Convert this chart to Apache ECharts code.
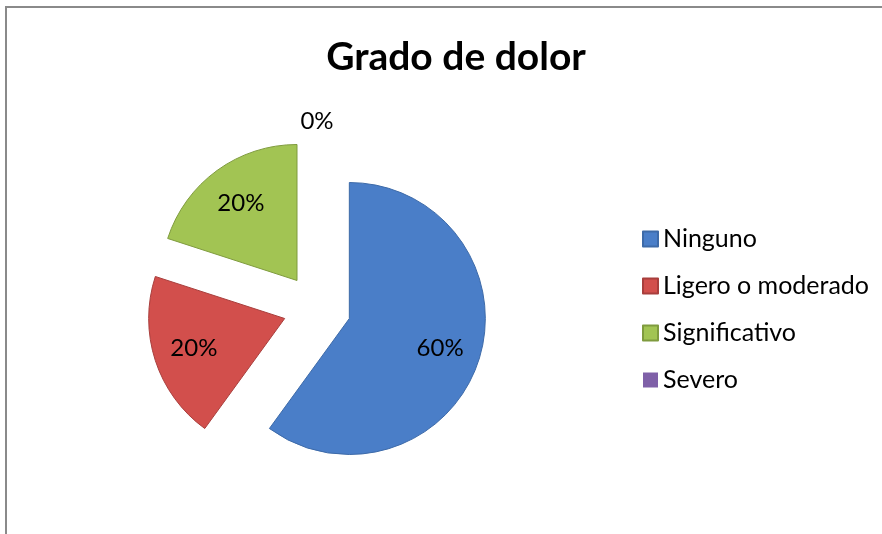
<!DOCTYPE html>
<html>
<head>
<meta charset="utf-8">
<script src="https://cdn.jsdelivr.net/npm/echarts@6/dist/echarts.min.js"></script>
<style>
  html, body { margin: 0; padding: 0; background: #fff; overflow: hidden; }
  #frame { position: absolute; left: 5px; top: 6px; width: 1000px; height: 1000px;
           border-top: 2px solid #8a8a8a; border-left: 2px solid #8a8a8a; }
  #chart { position: absolute; left: 0; top: 0; width: 882px; height: 534px; }
</style>
</head>
<body>
<div id="frame"></div>
<div id="chart"></div>
<script>
const categories = ['Ninguno', 'Ligero o moderado', 'Significativo', 'Severo']
const values = [60, 20, 20, 0]
const colors = ['#4a7ec8', '#d24f4c', '#a2c453', '#7f60a8']
const borders = ['#3d6aa8', '#a83e3c', '#7f9b3e', '#634a86']

const font = 'Lato, "Open Sans", sans-serif'
const center = [317, 308]
const offset = 34

const chart = echarts.init(document.getElementById('chart'))

const pctLabel = p => Math.round(p.percent) + '%'

const baseData = categories.map((name, i) => ({ name, value: values[i], selected: true }))

const option = {
  animation: false,
  title: {
    text: 'Grado de dolor',
    left: 451,
    textAlign: 'center',
    top: 33,
    textStyle: { fontFamily: font, fontWeight: 'bold', fontSize: 39, color: '#000' }
  },
  legend: {
    orient: 'vertical',
    left: 637,
    top: 221,
    data: categories,
    icon: 'rect',
    itemWidth: 15,
    itemHeight: 15,
    itemGap: 21,
    selectedMode: false,
    textStyle: { fontFamily: font, fontSize: 25, color: '#000', lineHeight: 26, padding: [0, 0, 0, 0] }
  },
  series: [
    {
      // visible slices
      type: 'pie',
      center,
      radius: [0, 136],
      startAngle: 90,
      clockwise: true,
      selectedMode: 'multiple',
      selectedOffset: offset,
      silent: true,
      label: { show: false },
      labelLine: { show: false },
      data: baseData.map((d, i) => ({
        ...d,
        itemStyle: { color: colors[i], borderColor: borders[i], borderWidth: values[i] > 0 ? 1 : 0 }
      }))
    },
    {
      // inside percentage labels
      type: 'pie',
      center,
      radius: [49, 136],
      startAngle: 90,
      clockwise: true,
      selectedMode: 'multiple',
      selectedOffset: offset,
      silent: true,
      itemStyle: { color: 'rgba(0,0,0,0)', borderWidth: 0 },
      label: {
        show: true,
        position: 'inside',
        formatter: pctLabel,
        fontFamily: font,
        fontSize: 24,
        color: '#000'
      },
      labelLine: { show: false },
      data: baseData.map((d, i) => ({
        ...d,
        label: { show: values[i] > 0 }
      }))
    },
    {
      // label for empty slice, drawn further out
      type: 'pie',
      center,
      radius: [136, 164],
      startAngle: 90,
      clockwise: true,
      selectedMode: 'multiple',
      selectedOffset: offset,
      silent: true,
      itemStyle: { color: 'rgba(0,0,0,0)', borderWidth: 0 },
      label: {
        show: true,
        position: 'inside',
        formatter: pctLabel,
        fontFamily: font,
        fontSize: 24,
        color: '#000'
      },
      labelLine: { show: false },
      data: baseData.map((d, i) => ({
        ...d,
        label: { show: values[i] === 0 }
      }))
    }
  ]
}

chart.setOption(option)
</script>
</body>
</html>
